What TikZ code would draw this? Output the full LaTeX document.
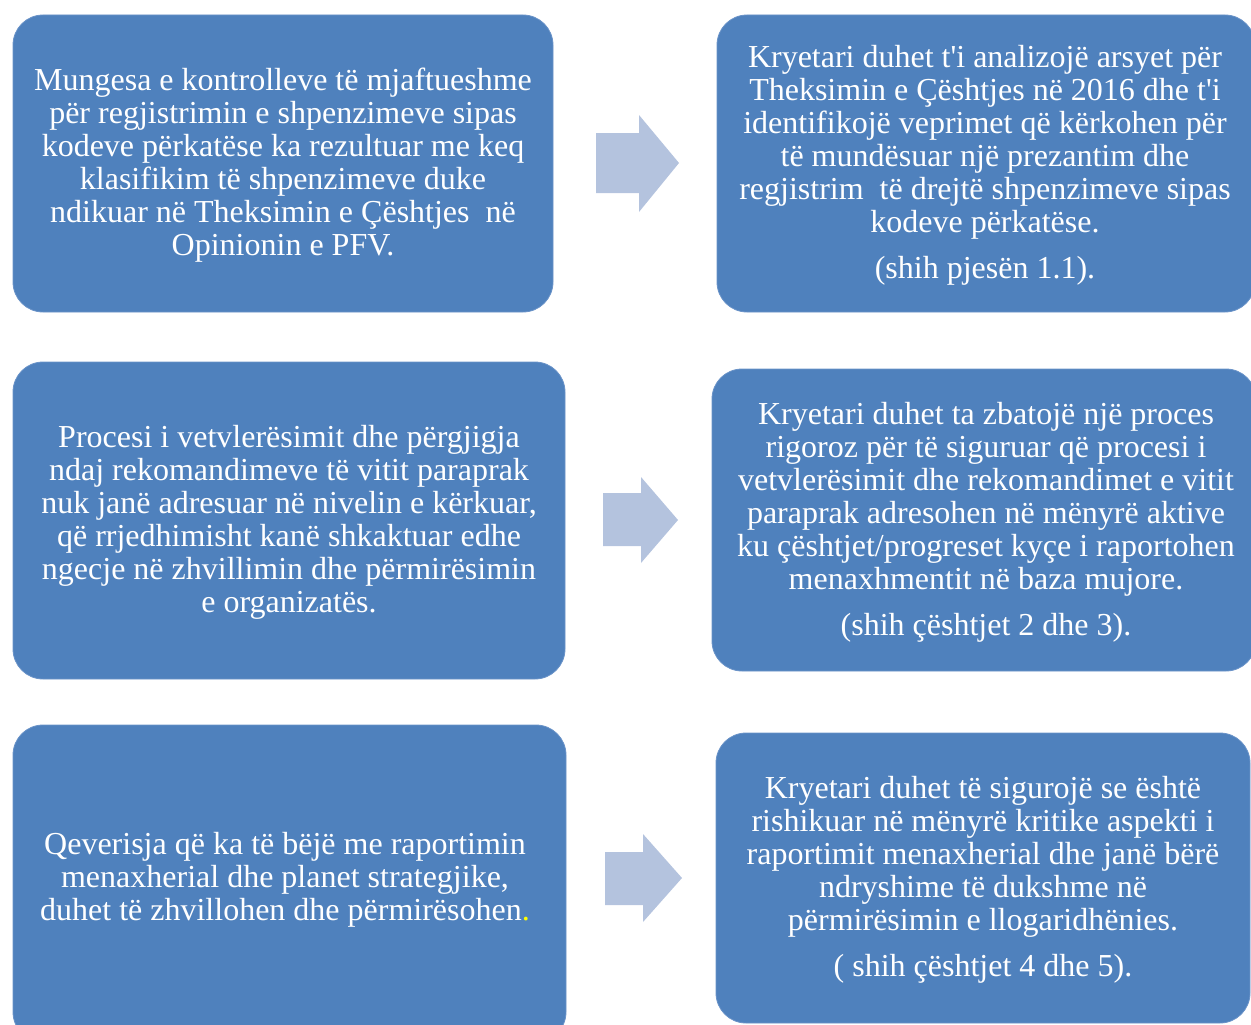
\documentclass[tikz,border=0pt]{standalone}
\usepackage{fontspec}
\setmainfont{Liberation Serif}[Ligatures=TeXOff]
\definecolor{boxblue}{HTML}{4F81BD}
\definecolor{boxedge}{HTML}{6A93C8}
\definecolor{arrowblue}{HTML}{B4C3DE}
\definecolor{dotyellow}{HTML}{FFFF00}
\tikzset{
  bluebox/.style={fill=boxblue, draw=boxedge, line width=0.8pt, rounded corners=30pt},
  boxtext/.style={align=center, text=white, inner sep=0pt,
    font=\fontsize{32}{33}\selectfont},
  blockarrow/.style={fill=arrowblue, draw=none}
}
\begin{document}
\begin{tikzpicture}[x=1pt,y=-1pt]
\useasboundingbox (0,0) rectangle (1251,1025);
\clip (0,0) rectangle (1251,1025);
% boxes
\path[bluebox] (13,15) rectangle (553,312);
\path[bluebox] (717,15) rectangle (1255,312);
\path[bluebox] (13,362) rectangle (565,679);
\path[bluebox] (712,369) rectangle (1256,671);
\path[bluebox] (13,725) rectangle (566,1042);
\path[bluebox] (716,733) rectangle (1250,1023);
% arrows
\fill[blockarrow] (596,133) -- (639,133) -- (639,115) -- (679,163) -- (639,212) -- (639,193) -- (596,193) -- cycle;
\fill[blockarrow] (603,493) -- (641,493) -- (641,477) -- (678,520) -- (641,563) -- (641,546) -- (603,546) -- cycle;
\fill[blockarrow] (605,852) -- (643,852) -- (643,834) -- (682,878) -- (643,922) -- (643,905) -- (605,905) -- cycle;
% texts
\node[boxtext] (t1) at (283,165) {Mungesa e kontrolleve të mjaftueshme\\
për regjistrimin e shpenzimeve sipas\\
kodeve përkatëse ka rezultuar me keq\\
klasifikim të shpenzimeve duke\\
ndikuar në Theksimin e Çështjes\ \ në\\
Opinionin e PFV.};
\node[boxtext] (t2) at (985,165) {Kryetari duhet t'i analizojë arsyet për\\
Theksimin e Çështjes në 2016 dhe t'i\\
identifikojë veprimet që kërkohen për\\
të mundësuar një prezantim dhe\\
regjistrim\ \ të drejtë shpenzimeve sipas\\
kodeve përkatëse.\\[13pt]
(shih pjesën 1.1).};
\node[boxtext] (t3) at (289,522) {Procesi i vetvlerësimit dhe përgjigja\\
ndaj rekomandimeve të vitit paraprak\\
nuk janë adresuar në nivelin e kërkuar,\\
që rrjedhimisht kanë shkaktuar edhe\\
ngecje në zhvillimin dhe përmirësimin\\
e organizatës.};
\node[boxtext] (t4) at (986,522) {Kryetari duhet ta zbatojë një proces\\
rigoroz për të siguruar që procesi i\\
vetvlerësimit dhe rekomandimet e vitit\\
paraprak adresohen në mënyrë aktive\\
ku çështjet/progreset kyçe i raportohen\\
menaxhmentit në baza mujore.\\[13pt]
(shih çështjet 2 dhe 3).};
\node[boxtext] (t5) at (285,880) {Qeverisja që ka të bëjë me raportimin\\
menaxherial dhe planet strategjike,\\
duhet të zhvillohen dhe përmirësohen{\color{dotyellow}.}};
\node[boxtext] (t6) at (983,880) {Kryetari duhet të sigurojë se është\\
rishikuar në mënyrë kritike aspekti i\\
raportimit menaxherial dhe janë bërë\\
ndryshime të dukshme në\\
përmirësimin e llogaridhënies.\\[13pt]
( shih çështjet 4 dhe 5).};
\end{tikzpicture}
\end{document}
